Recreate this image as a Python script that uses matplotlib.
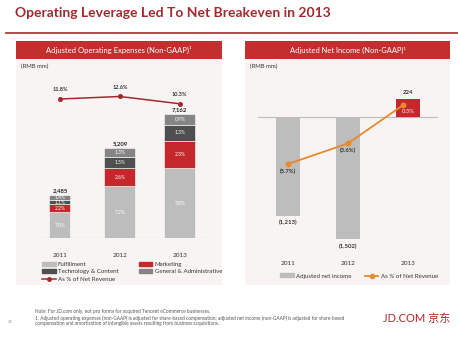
import matplotlib.pyplot as plt
from matplotlib.patches import Rectangle, Patch
from matplotlib.lines import Line2D

plt.rcParams['font.family'] = ['Lato', 'Noto Sans CJK SC', 'DejaVu Sans']

# data
years = ['2011', '2012', '2013']
fulfillment = [1483, 2975, 4030]
marketing = [468, 1075, 1600]
tech_content = [237, 621, 905]
gen_admin = [297, 538, 627]
opex_total = [2485, 5209, 7162]
fulfillment_pct = ['7.0%', '7.2%', '5.8%']
marketing_pct = ['2.2%', '2.6%', '2.3%']
tech_pct = ['1.1%', '1.5%', '1.3%']
ga_pct = ['1.4%', '1.3%', '0.9%']
opex_pct_rev = [11.8, 12.6, 10.3]

net_income = [-1213, -1502, 224]
ni_pct_rev = [-5.7, -3.6, 0.3]

# colours
DARK_RED = '#A3292E'
HEADER_RED = '#C1302F'
MKT_RED = '#C4282C'
LIGHT_GREY = '#BDBDBD'
MID_GREY = '#858585'
DARK_GREY = '#4F4F4F'
ORANGE = '#E8892B'
PANEL_BG = '#F8F4F4'

W, H = 458, 354
fig = plt.figure(figsize=(W / 100, H / 100), dpi=100)


def fx(x):
    return x / W


def fy(y):
    return 1 - y / H


def px_axes(x0, y0, x1, y1):
    return fig.add_axes([fx(x0), fy(y1), (x1 - x0) / W, (y1 - y0) / H])


# slide title and rule
fig.text(fx(15), fy(13), 'Operating Leverage Led To Net Breakeven in 2013',
         fontsize=10, fontweight='bold', color=DARK_RED, va='center', ha='left')
fig.add_artist(Line2D([fx(6), 1], [fy(33), fy(33)], color=DARK_RED, lw=1.2))

# panels + headers
for x0, x1, title, fs in [(16, 222, 'Adjusted Operating Expenses (Non-GAAP)¹', 5.5),
                          (245, 450, 'Adjusted Net Income (Non-GAAP)¹', 5.4)]:
    fig.add_artist(Rectangle((fx(x0), fy(285)), (x1 - x0) / W, (285 - 59) / H,
                             transform=fig.transFigure, color=PANEL_BG, lw=0, zorder=0))
    fig.add_artist(Rectangle((fx(x0), fy(59)), (x1 - x0) / W, 18 / H,
                             transform=fig.transFigure, color=HEADER_RED, lw=0))
    fig.text(fx((x0 + x1) / 2), fy(50), title, color='white', fontsize=fs,
             ha='center', va='center')
    fig.text(fx(x0 + 5), fy(66), '(RMB mm)', fontsize=4.3, color='#333333',
             ha='left', va='center')

# ---------- left chart: operating expenses ----------
ax1 = px_axes(36, 80, 208, 238)
xpos = [0, 1, 2]
widths = [0.35, 0.52, 0.52]
bottom = [0, 0, 0]
segments = [(fulfillment, LIGHT_GREY, fulfillment_pct),
            (marketing, MKT_RED, marketing_pct),
            (tech_content, DARK_GREY, tech_pct),
            (gen_admin, MID_GREY, ga_pct)]
for vals, col, labs in segments:
    ax1.bar(xpos, vals, width=widths, bottom=bottom, color=col,
            edgecolor='white', linewidth=0.4, zorder=2)
    for i in range(3):
        ax1.text(xpos[i], bottom[i] + vals[i] / 2, labs[i], color='white',
                 fontsize=3.6, ha='center', va='center', zorder=3)
    bottom = [b + v for b, v in zip(bottom, vals)]
for i in range(3):
    ax1.text(xpos[i], opex_total[i] + 120, f'{opex_total[i]:,}', fontsize=4.3,
             fontweight='bold', ha='center', va='bottom', color='#222222')
ax1.set_xlim(-0.4, 2.47)
ax1.set_ylim(0, 9126)
ax1.axhline(0, color='#BBBBBB', lw=0.8, zorder=1)
ax1.set_xticks(xpos)
ax1.set_xticklabels(years, fontsize=4.6, color='#333333')
ax1.tick_params(axis='x', length=0, pad=11)
ax1.set_yticks([])
for s in ax1.spines.values():
    s.set_visible(False)
ax1.patch.set_alpha(0)

ax1b = ax1.twinx()
ax1b.plot(xpos, opex_pct_rev, color=DARK_RED, lw=1.1, marker='o', ms=2.6, zorder=4)
for i in range(3):
    ax1b.annotate(f'{opex_pct_rev[i]:.1f}%', (xpos[i], opex_pct_rev[i]),
                  xytext=(0, 5), textcoords='offset points', fontsize=4.0,
                  fontweight='bold', ha='center', va='bottom', color='#333333')
ax1b.set_ylim(-32.05, 17.8)
ax1b.set_yticks([])
for s in ax1b.spines.values():
    s.set_visible(False)

handles1 = [Patch(color=LIGHT_GREY, label='Fulfillment'),
            Patch(color=DARK_GREY, label='Technology & Content'),
            Line2D([], [], color=DARK_RED, marker='o', ms=2.5, lw=1.1,
                   label='As % of Net Revenue'),
            Patch(color=MKT_RED, label='Marketing'),
            Patch(color=MID_GREY, label='General & Administrative')]
fig.legend(handles=handles1, ncol=2, loc='upper left',
           bbox_to_anchor=(fx(39), fy(259)), frameon=False, fontsize=4.4,
           handlelength=2.2, handleheight=0.6, handletextpad=0.4,
           columnspacing=3.3, labelspacing=0.35, borderpad=0, labelcolor='#333333')

# ---------- right chart: net income ----------
ax2 = px_axes(258, 80, 438, 250)
ni_colors = [LIGHT_GREY if v < 0 else MKT_RED for v in net_income]
ax2.bar(xpos, net_income, width=0.4, color=ni_colors, zorder=2)
for i in range(3):
    v = net_income[i]
    lab = f'({abs(v):,})' if v < 0 else f'{v:,}'
    ax2.annotate(lab, (xpos[i], v), xytext=(0, -3 if v < 0 else 3),
                 textcoords='offset points', fontsize=4.3, fontweight='bold',
                 ha='center', va='top' if v < 0 else 'bottom', color='#333333')
ax2.set_xlim(-0.5, 2.5)
ax2.set_ylim(-1636, 455)
ax2.axhline(0, color='#BBBBBB', lw=0.8, zorder=1)
ax2.set_xticks(xpos)
ax2.set_xticklabels(years, fontsize=4.6, color='#333333')
ax2.tick_params(axis='x', length=0, pad=8)
ax2.set_yticks([])
for s in ax2.spines.values():
    s.set_visible(False)
ax2.patch.set_alpha(0)

ax2b = ax2.twinx()
ax2b.plot([p - 0.08 * (i == 2) for i, p in enumerate(xpos)], ni_pct_rev,
          color=ORANGE, lw=1.3, marker='o', ms=3.2, zorder=4)
for i in range(3):
    v = ni_pct_rev[i]
    lab = f'({abs(v):.1f}%)' if v < 0 else f'{v:.1f}%'
    ax2b.annotate(lab, (xpos[i], v), xytext=(0, -3), textcoords='offset points',
                  fontsize=4.2, fontweight='bold', ha='center', va='top',
                  color='#333333' if v < 0 else '#F4B8B0')
ax2b.set_ylim(-14.45, 2.85)
ax2b.set_yticks([])
for s in ax2b.spines.values():
    s.set_visible(False)

handles2 = [Patch(color=LIGHT_GREY, label='Adjusted net income'),
            Line2D([], [], color=ORANGE, marker='o', ms=3, lw=1.3,
                   label='As % of Net Revenue')]
fig.legend(handles=handles2, ncol=2, loc='center left',
           bbox_to_anchor=(fx(277), fy(276)), frameon=False, fontsize=4.4,
           handlelength=2.2, handleheight=0.6, handletextpad=0.4,
           columnspacing=2.2, borderpad=0, labelcolor='#333333')

# ---------- footer ----------
foot = '#555555'
fig.text(fx(35), fy(312), 'Note: For JD.com only, not pro forma for acquired Tencent eCommerce businesses.',
         fontsize=3.45, color=foot, va='center')
fig.text(fx(35), fy(318), '1. Adjusted operating expenses (non-GAAP) is adjusted for share-based compensation; '
         'adjusted net income (non-GAAP) is adjusted for share-based',
         fontsize=3.45, color=foot, va='center')
fig.text(fx(35), fy(323.5), 'compensation and amortization of intangible assets resulting from business acquisitions.',
         fontsize=3.45, color=foot, va='center')
fig.text(fx(8), fy(322), '25', fontsize=3.2, color='#999999', va='center')
fig.text(fx(450), fy(318), 'JD.COM 京东', fontsize=8, color='#B0262C',
         ha='right', va='center')

fig.savefig('out.png', dpi=100, facecolor='white')
